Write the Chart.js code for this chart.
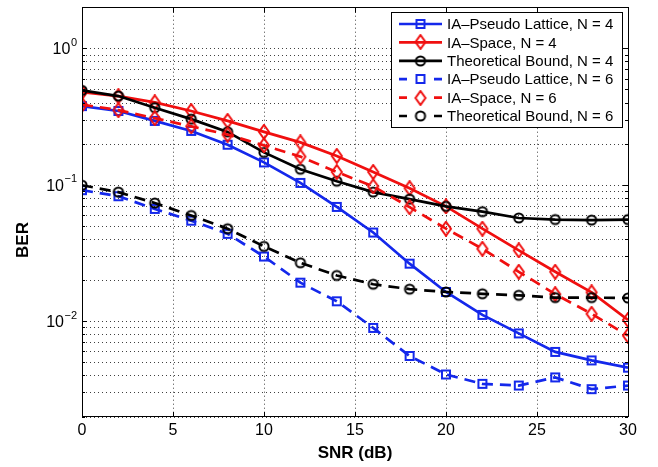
<!DOCTYPE html>
<html>
  <head>
    <meta charset="utf-8" />
    <title>BER vs SNR</title>
    <style>
      html, body { margin: 0; padding: 0; background: #fff; }
    </style>
  </head>
  <body>
    <canvas id="myChart" width="658" height="467"></canvas>

    <script src="https://cdn.jsdelivr.net/npm/chart.js@4.4.0/dist/chart.umd.min.js"></script>
    <script>
      // SNR (dB) sample points
      const snrValues = [0, 2, 4, 6, 8, 10, 12, 14, 16, 18, 20, 22, 24, 26, 28, 30];

      // BER curves
      const pseudoLatticeN4 = [0.38, 0.35, 0.296, 0.25, 0.198, 0.147, 0.104, 0.0693, 0.045, 0.0266, 0.0165, 0.0112, 0.0082, 0.006, 0.0052, 0.0046];
      const spaceN4 = [0.48, 0.45, 0.405, 0.35, 0.296, 0.246, 0.206, 0.164, 0.125, 0.095, 0.07, 0.048, 0.0333, 0.0232, 0.0164, 0.0103];
      const boundN4 = [0.495, 0.45, 0.37, 0.305, 0.246, 0.174, 0.131, 0.107, 0.089, 0.079, 0.07, 0.064, 0.0575, 0.056, 0.0555, 0.056];
      const pseudoLatticeN6 = [0.092, 0.083, 0.067, 0.055, 0.044, 0.03, 0.0193, 0.0141, 0.009, 0.0056, 0.0041, 0.0035, 0.0034, 0.0039, 0.0032, 0.0034];
      const spaceN6 = [0.39, 0.355, 0.31, 0.27, 0.235, 0.196, 0.162, 0.125, 0.098, 0.069, 0.048, 0.0342, 0.0232, 0.0159, 0.0114, 0.0079];
      const boundN6 = [0.1, 0.089, 0.074, 0.06, 0.048, 0.0356, 0.027, 0.0218, 0.0188, 0.0173, 0.0165, 0.016, 0.0156, 0.015, 0.015, 0.0149];

      // axis ticks
      const xTicks = [0, 5, 10, 15, 20, 25, 30];
      const yDecades = [0.01, 0.1, 1];
      const yDecadeExps = ["\u22122", "\u22121", "0"];

      const BLUE = "rgb(20, 40, 235)";
      const RED = "rgb(240, 15, 15)";
      const BLACK = "#000";
      const FONT = "'Liberation Sans', Arial, Helvetica, sans-serif";

      // marker pictures (Matlab style hollow markers)
      function makeMarker(shape, color) {
        const c = document.createElement("canvas");
        c.width = 16;
        c.height = 16;
        const g = c.getContext("2d");
        g.strokeStyle = color;
        g.lineWidth = 2;
        g.beginPath();
        if (shape === "square") {
          g.rect(4, 4, 8, 8);
        } else if (shape === "diamond") {
          g.moveTo(8, 1);
          g.lineTo(13, 8);
          g.lineTo(8, 15);
          g.lineTo(3, 8);
          g.closePath();
        } else {
          g.arc(8, 8, 4.6, 0, Math.PI * 2);
        }
        g.stroke();
        return c;
      }

      const toPoints = (arr) => arr.map((v, i) => ({ x: snrValues[i], y: v }));

      const series = [
        { label: "IA\u2013Pseudo Lattice, N = 4", data: pseudoLatticeN4, color: BLUE, shape: "square", dashed: false },
        { label: "IA\u2013Space, N = 4", data: spaceN4, color: RED, shape: "diamond", dashed: false },
        { label: "Theoretical Bound, N = 4", data: boundN4, color: BLACK, shape: "circle", dashed: false },
        { label: "IA\u2013Pseudo Lattice, N = 6", data: pseudoLatticeN6, color: BLUE, shape: "square", dashed: true },
        { label: "IA\u2013Space, N = 6", data: spaceN6, color: RED, shape: "diamond", dashed: true },
        { label: "Theoretical Bound, N = 6", data: boundN6, color: BLACK, shape: "circle", dashed: true },
      ];
      series.forEach((s) => (s.marker = makeMarker(s.shape, s.color)));

      const datasets = series.map((s, i) => ({
        label: s.label,
        data: toPoints(s.data),
        borderColor: s.color,
        backgroundColor: s.color,
        borderWidth: 2.7,
        borderDash: s.dashed ? [11, 7] : [],
        pointStyle: s.marker,
        pointRadius: 5,
        tension: 0,
        fill: false,
        order: series.length - i, // later series on top, like Matlab
      }));

      // box, inward ticks, y labels/title and the legend
      const matlabFrame = {
        id: "matlabFrame",
        afterDraw(chart) {
          const ctx = chart.ctx;
          const a = chart.chartArea;
          const xs = chart.scales.x;
          const ys = chart.scales.y;
          const al = (p) => Math.round(p - 0.5) + 0.5;
          ctx.save();
          ctx.strokeStyle = "#000";
          ctx.lineWidth = 1;
          ctx.setLineDash([]);
          ctx.beginPath();
          xTicks.forEach((t) => {
            const px = al(xs.getPixelForValue(t));
            ctx.moveTo(px, a.bottom);
            ctx.lineTo(px, a.bottom - 5);
            ctx.moveTo(px, a.top);
            ctx.lineTo(px, a.top + 5);
          });
          ys.ticks.forEach((t) => {
            const py = al(ys.getPixelForValue(t.value));
            const len = yDecades.includes(t.value) ? 5 : 3;
            ctx.moveTo(a.left, py);
            ctx.lineTo(a.left + len, py);
            ctx.moveTo(a.right, py);
            ctx.lineTo(a.right - len, py);
          });
          ctx.stroke();
          ctx.strokeRect(al(a.left), al(a.top), Math.round(a.right - a.left), Math.round(a.bottom - a.top));

          // y decade labels with superscript exponents
          ctx.fillStyle = "#000";
          ctx.textBaseline = "middle";
          ctx.textAlign = "right";
          yDecades.forEach((d, i) => {
            const py = ys.getPixelForValue(d);
            const rx = a.left - 5;
            ctx.font = "11px " + FONT;
            const ew = ctx.measureText(yDecadeExps[i]).width;
            ctx.fillText(yDecadeExps[i], rx, py - 6);
            ctx.font = "16px " + FONT;
            ctx.fillText("10", rx - ew - 0.5, py + 1);
          });

          // y axis title
          ctx.save();
          ctx.translate(23, 240);
          ctx.rotate(-Math.PI / 2);
          ctx.font = "bold 17px " + FONT;
          ctx.textAlign = "center";
          ctx.textBaseline = "middle";
          ctx.fillText("BER", 0, 0);
          ctx.restore();

          // legend box
          const lx = 391.5, ly = 12.5, lw = 231, lh = 115;
          ctx.fillStyle = "#fff";
          ctx.fillRect(lx, ly, lw, lh);
          ctx.strokeStyle = "#000";
          ctx.strokeRect(lx, ly, lw, lh);
          ctx.font = "15px " + FONT;
          ctx.textAlign = "left";
          ctx.textBaseline = "middle";
          series.forEach((s, i) => {
            const cy = 24 + i * 18.4;
            ctx.strokeStyle = s.color;
            ctx.lineWidth = 2.7;
            ctx.beginPath();
            if (s.dashed) {
              ctx.moveTo(399, cy);
              ctx.lineTo(407, cy);
              ctx.moveTo(434, cy);
              ctx.lineTo(442, cy);
            } else {
              ctx.moveTo(399, cy);
              ctx.lineTo(442, cy);
            }
            ctx.stroke();
            ctx.drawImage(s.marker, 420.5 - 8, Math.round(cy) - 8);
            ctx.fillStyle = "#000";
            ctx.fillText(s.label, 447, cy + 1);
          });
          ctx.restore();
        },
      };

      const ctx = document.getElementById("myChart").getContext("2d");
      const myChart = new Chart(ctx, {
        type: "line",
        data: { datasets: datasets },
        plugins: [matlabFrame],
        options: {
          responsive: false,
          animation: false,
          devicePixelRatio: 1,
          layout: { padding: { top: 5, right: 30, left: 0, bottom: 0 } },
          plugins: {
            legend: { display: false },
            tooltip: { enabled: false },
          },
          scales: {
            x: {
              type: "linear",
              min: 0,
              max: 30,
              afterFit: (s) => { s.height = 50; },
              afterBuildTicks: (s) => { s.ticks = xTicks.map((v) => ({ value: v })); },
              ticks: {
                color: "#000",
                font: { family: FONT, size: 16 },
                padding: 4,
              },
              grid: {
                color: "rgba(0,0,0,0.75)",
                lineWidth: 1,
                drawTicks: false,
              },
              border: { display: false, dash: [1, 3] },
              title: {
                display: true,
                text: "SNR (dB)",
                color: "#000",
                font: { family: FONT, size: 17, weight: "bold" },
                padding: { top: 0, bottom: 3 },
              },
            },
            y: {
              type: "logarithmic",
              min: 0.002,
              max: 2,
              afterFit: (s) => { s.width = 82; },
              afterBuildTicks: (s) => {
                const vals = [];
                [0.001, 0.01, 0.1, 1].forEach((d) => {
                  for (let k = 1; k <= 9; k++) {
                    const v = +(k * d).toPrecision(3);
                    if (v >= 0.002 && v <= 2) vals.push(v);
                  }
                });
                s.ticks = vals.map((v) => ({ value: v }));
              },
              ticks: { display: false },
              grid: {
                color: "rgba(0,0,0,0.75)",
                lineWidth: 1,
                drawTicks: false,
              },
              border: { display: false, dash: [1, 3] },
            },
          },
        },
      });
    </script>
  </body>
</html>
